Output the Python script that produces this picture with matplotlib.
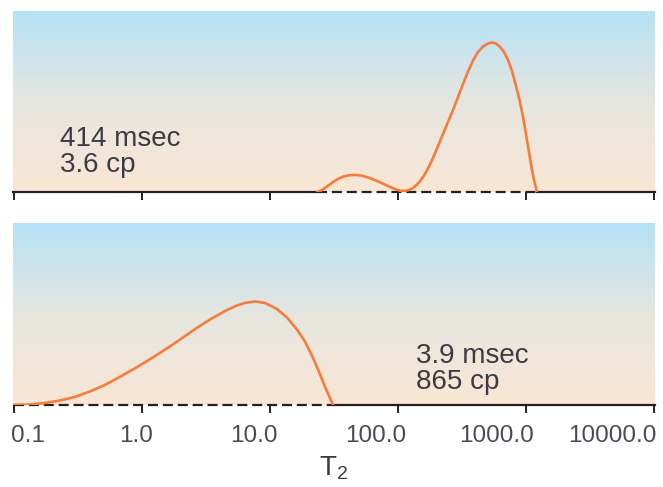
import numpy as np
import matplotlib.pyplot as plt
from matplotlib.colors import LinearSegmentedColormap
from matplotlib.transforms import ScaledTranslation

# T2 distributions (T2 in msec, amplitude in arbitrary units)
t2_top = [23.3, 25.0, 26.9, 28.9, 31.1, 34.0, 37.2, 40.7, 44.5, 47.8, 52.3, 57.3,
          62.6, 68.5, 75.0, 82.1, 89.8, 98.2, 105.5, 113.4, 121.9, 131.0, 140.8,
          151.2, 162.5, 174.6, 187.7, 205.4, 224.7, 245.9, 269.0, 294.3, 322.0,
          352.3, 385.5, 421.7, 461.4, 504.8, 542.6, 583.1, 626.6, 673.4, 723.6,
          777.6, 835.6, 898.0, 948, 1000, 1055, 1114, 1155, 1197, 1219]
amp_top = [0, 1.5, 4, 7, 10, 13, 15.3, 16.5, 17, 17, 16.3, 14.8,
           13, 11, 8.8, 6.5, 4.2, 2.2, 1.2, 1.2, 2, 4, 7.5,
           12, 18, 25.5, 34, 46, 58, 70, 82, 95, 108,
           120.5, 131.5, 140, 145.5, 148.5, 149.5, 148.5, 145, 140, 132,
           121, 106, 90, 75, 58, 40, 22, 12, 4, 0]

t2_bot = [0.1, 0.1334, 0.1746, 0.2288, 0.2996, 0.3924, 0.5141, 0.6732, 0.8816,
          1.155, 1.512, 1.981, 2.595, 3.398, 4.450, 5.524, 6.377, 7.634, 9.140,
          11.34, 13.58, 16.25, 18.77, 21.67, 24.14, 26.90, 28.90, 31.05]
amp_bot = [0, 0.5, 2, 4.5, 8, 13.5, 20, 28, 36.5,
           45.5, 55, 65, 75.5, 85, 93.5, 99, 101.5, 103, 101.5,
           95.5, 87, 75, 63, 47, 33, 18, 9, 0]

tick_vals = [0.1, 1, 10, 100, 1000, 10000]
tick_labels = ["0.1", "1.0", "10.0", "100.0", "1000.0", "10000.0"]
label_shift = [31, 11, 8, 8, 8, 3]  # px, labels sit a bit left of their ticks

notes_top = "414 msec\n3.6 cp"
notes_bot = "3.9 msec\n865 cp"

plt.rcParams['font.family'] = ['Liberation Sans', 'DejaVu Sans']
plt.rcParams['mathtext.default'] = 'regular'

orange = '#f57c3c'
txt = '#3b3b44'
grad = LinearSegmentedColormap.from_list(
    'bg', ['#fae7d5', '#e6e6e0', '#b5e2f6'])

fig = plt.figure(figsize=(6.63, 4.87), dpi=100)
ax1 = fig.add_axes([13 / 663, 1 - 192 / 487, 642 / 663, 181 / 487])
ax2 = fig.add_axes([13 / 663, 1 - 405 / 487, 642 / 663, 182 / 487])

lo, hi = 10 ** (-1 - 1 / 128), 10 ** (4 + 1 / 128)
dash = (0, (4.5, 2.2))


def panel(ax, t2, amp, note, note_xy):
    ax.set_xscale('log')
    ax.set_xlim(lo, hi)
    ax.set_ylim(0, 181)
    ax.imshow(np.linspace(0, 1, 256).reshape(-1, 1), cmap=grad, origin='lower',
              extent=[0, 1, 0, 1], transform=ax.transAxes, aspect='auto', zorder=0)
    for s in ax.spines.values():
        s.set_visible(False)
    ax.set_yticks([])
    ax.set_xticks(tick_vals)
    ax.set_xticklabels([])
    ax.minorticks_off()
    ax.tick_params(axis='x', direction='out', length=6, width=1.4, color='#222222')
    # baseline: dashed under the distribution, solid elsewhere
    left_style = dash if t2[0] <= tick_vals[0] else '-'
    ax.plot([lo, t2[0]], [0, 0], color='#222222', lw=1.6, ls=left_style,
            clip_on=False, zorder=2)
    ax.plot([t2[0], t2[-1]], [0, 0], color='#222222', lw=1.6, ls=dash,
            clip_on=False, zorder=2)
    ax.plot([t2[-1], hi], [0, 0], color='#222222', lw=1.6, clip_on=False, zorder=2)
    ax.plot(t2, amp, color=orange, lw=1.9, zorder=3, solid_capstyle='round')
    ax.text(note_xy[0], note_xy[1], note, transform=ax.transAxes, fontsize=20,
            color=txt, va='top', ha='left', linespacing=0.98)


panel(ax1, t2_top, amp_top, notes_top, (47 / 642, 1 - 115 / 181))
panel(ax2, t2_bot, amp_bot, notes_bot, (403 / 642, 1 - 120 / 182))

# tick labels sit slightly left of their ticks in the reference
for v, lab, dx in zip(tick_vals, tick_labels, label_shift):
    off = ScaledTranslation(dx / 100, -37 / 100, fig.dpi_scale_trans)
    ax2.text(v, 0, lab, transform=ax2.get_xaxis_transform() + off, fontsize=17.5,
             color='#4a4a55', ha='right', va='baseline')

ax2.text(0.5, 0, 'T$_2$', transform=ax2.transAxes + ScaledTranslation(0, -70 / 100, fig.dpi_scale_trans),
         fontsize=20, color=txt, ha='center', va='baseline')

fig.savefig('out.png', dpi=100)
